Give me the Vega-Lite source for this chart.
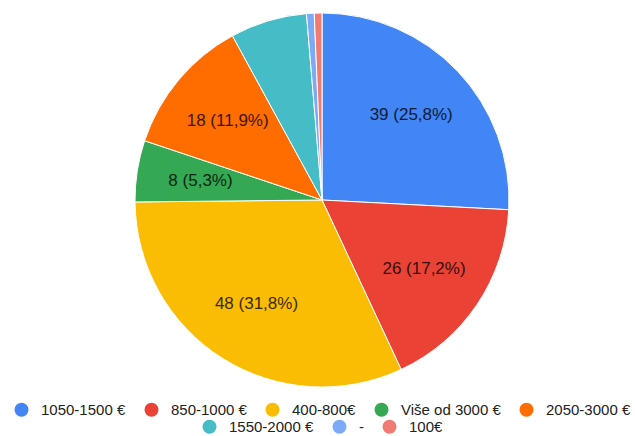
{
  "$schema": "https://vega.github.io/schema/vega-lite/v6.json",
  "width": 626,
  "height": 400,
  "autosize": "none",
  "padding": {"left": 9, "top": 0, "right": 0, "bottom": 36},
  "background": "white",
  "config": {
    "legend": {
      "layout": {"bottom": {"anchor": "middle", "direction": "vertical", "center": true, "margin": 1}}
    }
  },
  "data": {
    "values": [
      {"k": "1050-1500 €", "n": 39, "o": 1, "txt": "39 (25,8%)"},
      {"k": "850-1000 €", "n": 26, "o": 2, "txt": "26 (17,2%)"},
      {"k": "400-800€", "n": 48, "o": 3, "txt": "48 (31,8%)"},
      {"k": "Više od 3000 €", "n": 8, "o": 4, "txt": "8 (5,3%)"},
      {"k": "2050-3000 €", "n": 18, "o": 5, "txt": "18 (11,9%)"},
      {"k": "1550-2000 €", "n": 10, "o": 6, "txt": ""},
      {"k": "-", "n": 1, "o": 7, "txt": ""},
      {"k": "100€", "n": 1, "o": 8, "txt": ""}
    ]
  },
  "layer": [
    {
      "mark": {"type": "arc", "outerRadius": 187, "stroke": "white", "strokeWidth": 1},
      "encoding": {
        "theta": {"field": "n", "type": "quantitative", "stack": true},
        "order": {"field": "o", "type": "quantitative"},
        "color": {
          "field": "k",
          "type": "nominal",
          "scale": {
            "domain": ["1050-1500 €", "850-1000 €", "400-800€", "Više od 3000 €", "2050-3000 €", "1550-2000 €", "-", "100€"],
            "range": ["#4285F4", "#EA4335", "#FBBC04", "#34A853", "#FF6D01", "#46BDC6", "#7BAAF7", "#F07B72"]
          },
          "legend": {
            "values": ["1050-1500 €", "850-1000 €", "400-800€", "Više od 3000 €", "2050-3000 €"],
            "orient": "bottom",
            "direction": "horizontal",
            "title": null,
            "symbolType": "circle",
            "symbolSize": 196,
            "symbolStrokeWidth": 0,
            "labelFont": "Liberation Sans",
            "labelFontSize": 15,
            "labelOffset": 12,
            "labelColor": "#222222",
            "columnPadding": 18,
            "offset": 2
          }
        }
      }
    },
    {
      "mark": {"type": "arc", "outerRadius": 187, "stroke": "white", "strokeWidth": 1},
      "encoding": {
        "theta": {"field": "n", "type": "quantitative", "stack": true},
        "order": {"field": "o", "type": "quantitative"},
        "color": {
          "field": "k",
          "type": "nominal",
          "scale": {
            "domain": ["1050-1500 €", "850-1000 €", "400-800€", "Više od 3000 €", "2050-3000 €", "1550-2000 €", "-", "100€"],
            "range": ["#4285F4", "#EA4335", "#FBBC04", "#34A853", "#FF6D01", "#46BDC6", "#7BAAF7", "#F07B72"]
          },
          "legend": {
            "values": ["1550-2000 €", "-", "100€"],
            "orient": "bottom",
            "direction": "horizontal",
            "title": null,
            "symbolType": "circle",
            "symbolSize": 196,
            "symbolStrokeWidth": 0,
            "labelFont": "Liberation Sans",
            "labelFontSize": 15,
            "labelOffset": 12,
            "labelColor": "#222222",
            "columnPadding": 18,
            "offset": 2
          }
        }
      }
    },
    {
      "mark": {"type": "text", "radius": 123, "font": "Liberation Sans", "fontSize": 17, "color": "#000000", "opacity": 0.78},
      "encoding": {
        "theta": {"field": "n", "type": "quantitative", "stack": true},
        "order": {"field": "o", "type": "quantitative"},
        "text": {"field": "txt", "type": "nominal"}
      }
    }
  ],
  "resolve": {"scale": {"color": "independent"}, "legend": {"color": "independent"}}
}
